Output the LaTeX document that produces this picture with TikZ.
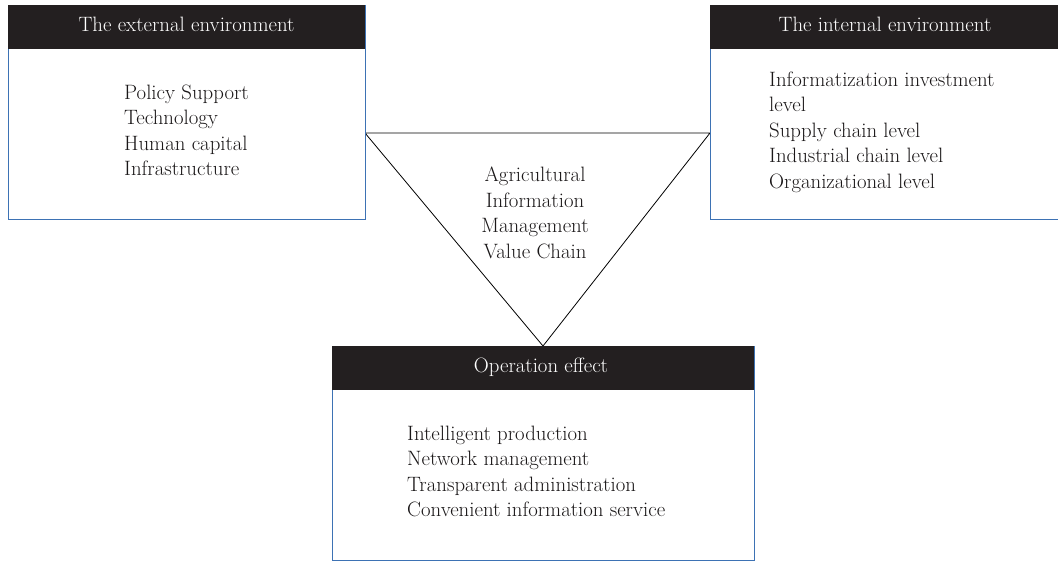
\documentclass[tikz,border=0pt]{standalone}
\usetikzlibrary{calc}
\definecolor{panelblue}{HTML}{3D72B4}
\definecolor{headblack}{HTML}{231F20}
\definecolor{inktext}{HTML}{1A1718}
\begin{document}
\begin{tikzpicture}[x=1pt,y=-1pt,
  panel/.style={draw=panelblue,line width=0.9pt,fill=white,rectangle,inner sep=0pt,anchor=north west},
  header/.style={fill=headblack,rectangle,inner sep=0pt,anchor=north west},
  headtext/.style={text=white,font=\fontsize{20.8}{24}\selectfont,anchor=base,inner sep=0pt},
  items/.style={align=left,font=\fontsize{20.8}{25.5}\selectfont,anchor=north west,inner sep=0pt,text=inktext},
  edge/.style={draw=black,line width=0.8pt,line join=miter}]
\useasboundingbox (0,0) rectangle (1058,561);

% corners of the central triangle
\coordinate (tl) at (365,133);
\coordinate (tr) at (710,133);
\coordinate (apex) at (543,346);
\draw[edge] (tl) -- (tr) -- (apex) -- cycle;

% external environment panel
\node[panel,minimum width=357pt,minimum height=214pt] (ext) at (8,5) {};
\node[header,minimum width=357pt,minimum height=44pt] (exthead) at (8,5) {};
\node[headtext] (exttitle) at (186.5,32) {The external environment};
\node[items] (extitems) at (124,84.6) {Policy Support\\Technology\\Human capital\\Infrastructure};

% internal environment panel
\node[panel,minimum width=347.5pt,minimum height=214pt] (int) at (710,5) {};
\node[header,minimum width=348pt,minimum height=44pt] (inthead) at (710,5) {};
\node[headtext] (inttitle) at (885,32) {The internal environment};
\node[items] (intitems) at (769,71.3) {Informatization investment\\level\\Supply chain level\\Industrial chain level\\Organizational level};

% operation effect panel
\node[panel,minimum width=422pt,minimum height=214pt] (op) at (332,346) {};
\node[header,minimum width=422pt,minimum height=44pt] (ophead) at (332,346) {};
\node[headtext] (optitle) at (541,373) {Operation effect};
\node[items] (opitems) at (407,425.6) {Intelligent production\\Network management\\Transparent administration\\Convenient information service};

% label inside the triangle
\node[items,align=center,anchor=north] (core) at (535,166.6) {Agricultural\\Information\\Management\\Value Chain};
\end{tikzpicture}
\end{document}
